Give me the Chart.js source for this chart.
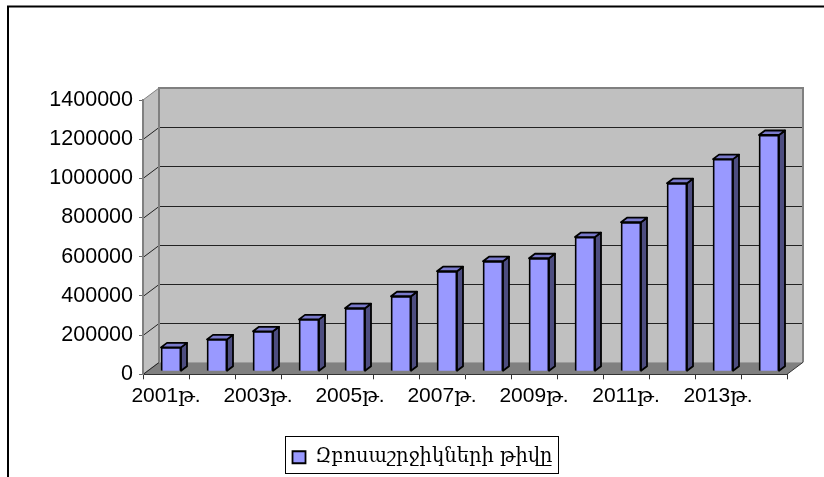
<!DOCTYPE html>
<html><head><meta charset="utf-8">
<style>html,body{margin:0;padding:0;background:#fff}#w{position:absolute;left:0;top:0;width:824px;height:477px}</style>
<script src="https://cdn.jsdelivr.net/npm/chart.js@4"></script>
</head><body><div id="w"><canvas id="c" width="824" height="477"></canvas></div>
<script>
const categories=['2001թ.','2002թ.','2003թ.','2004թ.','2005թ.','2006թ.','2007թ.','2008թ.','2009թ.','2010թ.','2011թ.','2012թ.','2013թ.','2014թ.'];
const seriesName='Զբոսաշրջիկների թիվը';
const tourists=[122000,163000,204000,265000,322000,383000,511000,562000,577000,685000,761000,960000,1083000,1206000];
const DX=16,DY=12,BX=5,BY=3,SX=6,SY=4.5;
const threeD={id:'threeD',
 afterLayout(ch){const l=ch.legend;l.left+=29;l.right+=29;},
 beforeDraw(ch){const g=ch.ctx,a=ch.chartArea,y=ch.scales.y;
  g.save();
  g.strokeStyle='#000';g.lineWidth=2;g.beginPath();g.moveTo(8,477);g.lineTo(8,6.5);g.lineTo(824,6.5);g.stroke();
  const L=a.left,R=a.right,T=a.top,B=a.bottom;
  g.lineWidth=1;g.strokeStyle='#808080';
  g.fillStyle='#c0c0c0';
  g.beginPath();g.moveTo(L,T);g.lineTo(L+DX,T-DY);g.lineTo(L+DX,B-DY);g.lineTo(L,B);g.closePath();g.fill();g.stroke();
  g.beginPath();g.rect(L+DX,T-DY,R-L,B-T);g.fill();
  g.fillStyle='#808080';
  g.beginPath();g.moveTo(L,B);g.lineTo(L+DX,B-DY);g.lineTo(R+DX,B-DY);g.lineTo(R,B);g.closePath();g.fill();
  g.strokeStyle='#222';
  y.ticks.forEach(t=>{if(t.value===0||t.value===y.max)return;const p=Math.round(y.getPixelForValue(t.value))+.5;
   g.beginPath();g.moveTo(L,p);g.lineTo(L+DX,p-DY);g.lineTo(R+DX,p-DY);g.stroke();});
  const z=Math.round(y.getPixelForValue(0))+.5;
  g.beginPath();g.moveTo(L,z);g.lineTo(L+DX,z-DY);g.stroke();
  g.strokeStyle='#808080';g.lineWidth=2;
  g.beginPath();g.moveTo(L+DX,B-DY);g.lineTo(L+DX,T-DY);g.lineTo(R+DX,T-DY);g.lineTo(R+DX,B-DY);g.stroke();
  g.lineWidth=1;g.strokeStyle='#333';g.beginPath();g.moveTo(R,B);g.lineTo(R+DX,B-DY);g.stroke();
  g.restore();},
 beforeDatasetsDraw(ch){const g=ch.ctx;g.save();g.translate(BX,-BY);
  g.lineWidth=1.8;g.strokeStyle='#000';g.lineJoin='round';
  ch.getDatasetMeta(0).data.forEach(e=>{const l=e.x-e.width/2,r=e.x+e.width/2,t=e.y,b=e.base;
   g.fillStyle='#4d4d80';g.beginPath();g.moveTo(r,t);g.lineTo(r+SX,t-SY);g.lineTo(r+SX,b-SY);g.lineTo(r,b);g.closePath();g.fill();g.stroke();
   g.fillStyle='#7a7acc';g.beginPath();g.moveTo(l,t);g.lineTo(l+SX,t-SY);g.lineTo(r+SX,t-SY);g.lineTo(r,t);g.closePath();g.fill();g.stroke();});
 },
 afterDatasetsDraw(ch){ch.ctx.restore();},
 afterDraw(ch){const g=ch.ctx;g.save();g.strokeStyle='#000';g.lineWidth=1;
  g.strokeRect(285.5,436.5,273,37);g.restore();}
};
new Chart(document.getElementById('c'),{type:'bar',plugins:[threeD],
 data:{labels:categories,datasets:[{label:seriesName,data:tourists,backgroundColor:'#9999ff',borderColor:'#000',borderWidth:1.8,barThickness:20}]},
 options:{responsive:false,animation:false,
  layout:{padding:{top:100,left:0,right:37,bottom:0}},
  plugins:{tooltip:{enabled:false},
   legend:{position:'bottom',align:'center',labels:{color:'#000',font:{family:'"DejaVu Serif","Noto Sans",serif',size:19.5},boxWidth:13,boxHeight:12,padding:8}}},
  scales:{
   x:{offset:true,grid:{offset:true,drawOnChartArea:false,drawTicks:true,tickLength:5,color:'#333',tickWidth:1},border:{color:'#333',width:1},
      ticks:{autoSkip:false,maxRotation:0,minRotation:0,padding:4,color:'#000',font:{family:'"Liberation Sans","DejaVu Serif",serif',size:21},
      callback(v,i){return i%2===0?this.getLabelForValue(v):'';}},
      afterFit(s){s.height+=27;}},
   y:{min:0,max:1400000,grid:{drawOnChartArea:false,drawTicks:true,tickLength:4,color:'#666'},border:{color:'#808080',width:2},
      ticks:{stepSize:200000,padding:6,color:'#000',font:{family:'"Liberation Sans",Arial,sans-serif',size:21.5},callback(v){return String(v);}},
      afterFit(s){s.width=143;}}
  }}});
</script></body></html>
